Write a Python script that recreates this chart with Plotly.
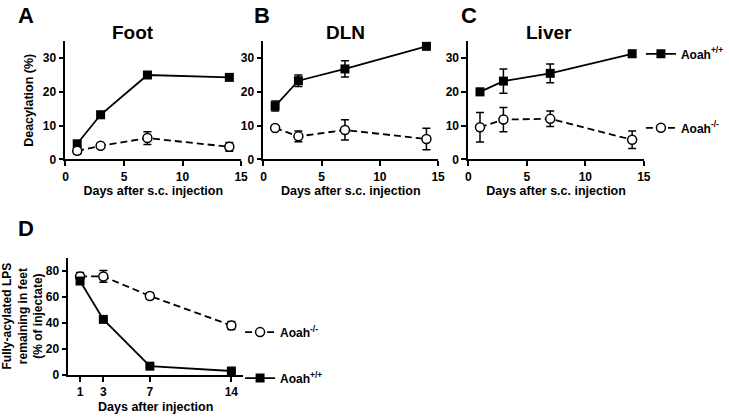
import plotly.graph_objects as go

W, H = 729, 419

days = [1, 3, 7, 14]

foot_wt = [4.6, 13.2, 25.0, 24.3]
foot_wt_err = [0.6, 1.0, 0.4, 0.5]
foot_ko = [2.5, 4.0, 6.3, 3.7]
foot_ko_err = [1.0, 0.4, 1.9, 1.3]

dln_wt = [15.8, 23.3, 26.8, 33.5]
dln_wt_err = [1.5, 1.7, 2.4, 0.4]
dln_ko = [9.3, 6.8, 8.7, 6.0]
dln_ko_err = [0.5, 1.6, 3.0, 3.2]

liver_wt = [20.0, 23.2, 25.5, 31.3]
liver_wt_err = [1.0, 3.6, 2.8, 1.0]
liver_ko = [9.5, 11.8, 12.0, 5.8]
liver_ko_err = [4.4, 3.6, 2.3, 2.6]

lps_ko = [75.5, 75.5, 60.5, 37.8]
lps_ko_err = [3.0, 4.5, 2.5, 3.0]
lps_wt = [72.0, 42.5, 6.5, 2.8]
lps_wt_err = [2.0, 1.0, 1.0, 1.0]

panel_titles = ["Foot", "DLN", "Liver"]
panel_letters = ["A", "B", "C", "D"]
ytitle_top = "Deacylation (%)"
xtitle_top = "Days after s.c. injection"
ytitle_d = "Fully-acylated LPS<br>remaining in feet<br>(% of injectate)"
xtitle_d = "Days after injection"
name_wt = "Aoah<sup>+/+</sup>"
name_ko = "Aoah<sup>-/-</sup>"

FONT = "Liberation Sans, Arial, sans-serif"

def px_x(a, b):
    return [a / W, b / W]

def px_y(top, bottom):
    return [1 - bottom / H, 1 - top / H]

fig = go.Figure()

def add_pair(xa, ya, wt, wt_err, ko, ko_err, legend="legend", show=False, ko_first=False):
    wt_tr = go.Scatter(
        x=days, y=wt, xaxis=xa, yaxis=ya, mode="lines+markers", name=name_wt,
        line=dict(color="black", width=1.8),
        marker=dict(symbol="square", size=9, color="black"),
        error_y=dict(type="data", array=wt_err, color="black", thickness=1.5, width=4),
        showlegend=show, legend=legend, legendgroup=legend + "wt",
        cliponaxis=False,
    )
    ko_tr = go.Scatter(
        x=days, y=ko, xaxis=xa, yaxis=ya, mode="lines+markers", name=name_ko,
        line=dict(color="black", width=1.8, dash="7px,4px"),
        marker=dict(symbol="circle", size=9, color="white", line=dict(color="black", width=1.5)),
        error_y=dict(type="data", array=ko_err, color="black", thickness=1.5, width=4),
        showlegend=show, legend=legend, legendgroup=legend + "ko",
        cliponaxis=False,
    )
    if ko_first:
        fig.add_trace(ko_tr)
        fig.add_trace(wt_tr)
    else:
        fig.add_trace(wt_tr)
        fig.add_trace(ko_tr)

add_pair("x", "y", foot_wt, foot_wt_err, foot_ko, foot_ko_err)
add_pair("x2", "y2", dln_wt, dln_wt_err, dln_ko, dln_ko_err)
add_pair("x3", "y3", liver_wt, liver_wt_err, liver_ko, liver_ko_err, legend="legend", show=True)
add_pair("x4", "y4", lps_wt, lps_wt_err, lps_ko, lps_ko_err, legend="legend2", show=True, ko_first=True)

tickfont = dict(family=FONT, size=12, color="black", weight="bold")
titlefont = dict(family=FONT, size=12.5, color="black", weight="bold")
axis_common = dict(
    showline=True, linecolor="black", linewidth=1.8,
    ticks="outside", ticklen=5, tickwidth=1.6, tickcolor="black",
    showgrid=False, zeroline=False, tickfont=tickfont, fixedrange=True,
)

top_x = [(61, 241), (264, 443), (474, 654)]
for i, (a, b) in enumerate(top_x):
    sfx = "" if i == 0 else str(i + 1)
    fig.layout["xaxis" + sfx] = dict(
        domain=px_x(a, b), anchor="y" + sfx, range=[0, 15], tickvals=[0, 5, 10, 15],
        title=dict(text=xtitle_top, font=titlefont, standoff=4),
        **axis_common,
    )
    ydict = dict(
        domain=px_y(42, 162), anchor="x" + sfx, range=[0, 35], tickvals=[0, 10, 20, 30],
        **axis_common,
    )
    if i == 0:
        ydict["title"] = dict(text=ytitle_top, font=titlefont, standoff=6)
    fig.layout["yaxis" + sfx] = ydict

fig.layout["xaxis4"] = dict(
    domain=px_x(64, 243), anchor="y4", range=[0, 15], tickvals=days,
    title=dict(text=xtitle_d, font=titlefont, standoff=4),
    **axis_common,
)
fig.layout["yaxis4"] = dict(
    domain=px_y(262, 381), anchor="x4", range=[0, 90], tickvals=[0, 20, 40, 60, 80],
    title=dict(text=ytitle_d, font=dict(family=FONT, size=12, color="black", weight="bold"), standoff=6),
    **axis_common,
)

annotations = []
title_pos = [(130, 33), (348, 33), (557, 33)]
for t, (cx, cy) in zip(panel_titles, title_pos):
    annotations.append(dict(text=t, x=cx / W, y=1 - cy / H, xref="paper", yref="paper",
                            showarrow=False, xanchor="center", yanchor="middle",
                            font=dict(family=FONT, size=19, color="black", weight="bold")))
letter_pos = [(21, 16), (262, 16), (475, 16), (21, 232)]
for t, (cx, cy) in zip(panel_letters, letter_pos):
    annotations.append(dict(text=t, x=cx / W, y=1 - cy / H, xref="paper", yref="paper",
                            showarrow=False, xanchor="center", yanchor="middle",
                            font=dict(family=FONT, size=22, color="black", weight="bold")))

legend_font = dict(family=FONT, size=12, color="black", weight="bold")
fig.update_layout(
    width=W, height=H, margin=dict(l=0, r=0, t=0, b=0),
    paper_bgcolor="white", plot_bgcolor="white",
    annotations=annotations,
    legend=dict(x=651 / W, y=1 - 40 / H, xanchor="left", yanchor="top", font=legend_font,
                bgcolor="rgba(0,0,0,0)", tracegroupgap=55, itemwidth=30),
    legend2=dict(x=240 / W, y=1 - 323 / H, xanchor="left", yanchor="top", font=legend_font,
                 bgcolor="rgba(0,0,0,0)", tracegroupgap=27, itemwidth=30),
)

fig.write_html("out.html", config={"displayModeBar": False},
               post_script="document.body.style.margin='0';document.body.style.padding='0';")
